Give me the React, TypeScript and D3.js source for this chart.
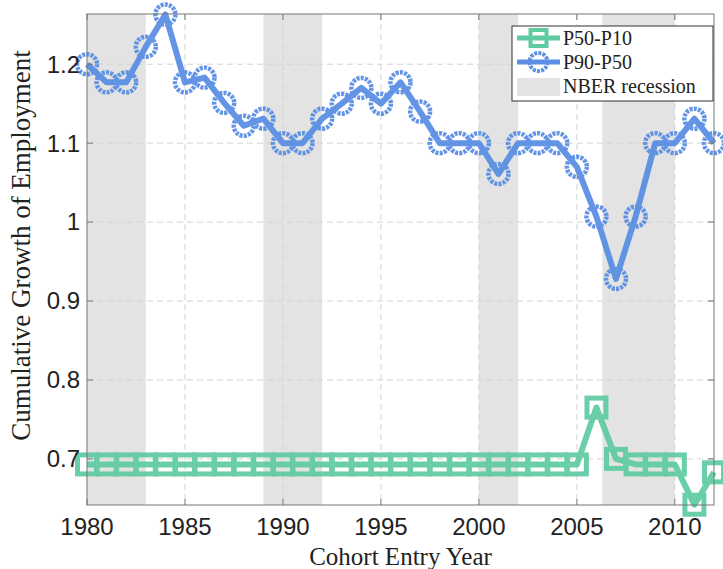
import * as d3 from 'd3'

const years = d3.range(1980, 2013)
const p90p50 = [
  1.2, 1.177, 1.177, 1.222, 1.263, 1.177, 1.183, 1.151, 1.122, 1.131,
  1.1, 1.1, 1.131, 1.15, 1.17, 1.15, 1.177, 1.14, 1.1, 1.1,
  1.1, 1.061, 1.1, 1.1, 1.1, 1.07, 1.007, 0.928, 1.007, 1.1,
  1.1, 1.131, 1.1,
]
const p50p10 = [
  0.693, 0.693, 0.693, 0.693, 0.693, 0.693, 0.693, 0.693, 0.693, 0.693,
  0.693, 0.693, 0.693, 0.693, 0.693, 0.693, 0.693, 0.693, 0.693, 0.693,
  0.693, 0.693, 0.693, 0.693, 0.693, 0.693, 0.765, 0.7, 0.693, 0.693,
  0.693, 0.642, 0.683,
]
const recessions: [number, number][] = [
  [1980, 1983],
  [1989, 1992],
  [2000, 2002],
  [2006.3, 2010],
]
const xTicks = [1980, 1985, 1990, 1995, 2000, 2005, 2010]
const yTicks = [0.7, 0.8, 0.9, 1, 1.1, 1.2]

const W = 723
const H = 569
const m = { left: 87, right: 714, top: 14, bottom: 505 }
const BLUE = '#5b8fe4'
const GREEN = '#5ecba1'
const SANS = 'Liberation Sans, Arial, Helvetica, sans-serif'
const SERIF = 'Liberation Serif, DejaVu Serif, serif'

export default function App() {
  const x = d3.scaleLinear().domain([1980, 2012]).range([m.left, m.right])
  const y = d3.scaleLinear().domain([0.6416, 1.2636]).range([m.bottom, m.top])
  const line = d3
    .line<number>()
    .x((_d, i) => x(years[i]))
    .y((d) => y(d))
  const sq = 19

  return (
    <svg width={W} height={H} style={{ position: 'absolute', left: 0, top: 0 }}>
      <rect x={0} y={0} width={W} height={H} fill="#fff" />
      {/* recession shading */}
      {recessions.map(([a, b], i) => (
        <rect key={i} x={x(a)} y={m.top} width={x(b) - x(a)} height={m.bottom - m.top} fill="#e3e3e3" />
      ))}
      {/* grid */}
      {xTicks.slice(1).map((t) => (
        <line key={t} x1={x(t)} x2={x(t)} y1={m.top} y2={m.bottom} stroke="#d4d4d4" strokeDasharray="6 4" />
      ))}
      {yTicks.map((t) => (
        <line key={t} x1={m.left} x2={m.right} y1={y(t)} y2={y(t)} stroke="#d4d4d4" strokeDasharray="6 4" />
      ))}
      {/* P50-P10 */}
      <g opacity={0.92}>
        <path d={line(p50p10) ?? ''} fill="none" stroke={GREEN} strokeWidth={6} strokeLinejoin="round" />
        {p50p10.map((v, i) => (
          <rect
            key={i}
            x={x(years[i]) - sq / 2}
            y={y(v) - sq / 2}
            width={sq}
            height={sq}
            fill="none"
            stroke={GREEN}
            strokeWidth={5}
          />
        ))}
      </g>
      {/* P90-P50 */}
      <g opacity={0.95}>
        <path d={line(p90p50) ?? ''} fill="none" stroke={BLUE} strokeWidth={6} strokeLinejoin="round" />
        {p90p50.map((v, i) => (
          <circle
            key={i}
            cx={x(years[i])}
            cy={y(v)}
            r={10}
            fill="none"
            stroke={BLUE}
            strokeWidth={4.5}
            strokeDasharray="3 1.2"
          />
        ))}
      </g>
      {/* axes box */}
      <rect x={m.left} y={m.top} width={m.right - m.left} height={m.bottom - m.top} fill="none" stroke="#777" strokeWidth={1} />
      {xTicks.map((t) => (
        <g key={t}>
          <line x1={x(t)} x2={x(t)} y1={m.bottom} y2={m.bottom - 6} stroke="#777" />
          <line x1={x(t)} x2={x(t)} y1={m.top} y2={m.top + 6} stroke="#777" />
          <text x={x(t)} y={535} textAnchor="middle" fontFamily={SANS} fontSize={24} fill="#222">
            {t}
          </text>
        </g>
      ))}
      {yTicks.map((t) => (
        <g key={t}>
          <line x1={m.left} x2={m.left + 6} y1={y(t)} y2={y(t)} stroke="#777" />
          <line x1={m.right} x2={m.right - 6} y1={y(t)} y2={y(t)} stroke="#777" />
          <text x={80} y={y(t)} dy="0.35em" textAnchor="end" fontFamily={SANS} fontSize={24} fill="#222">
            {d3.format('~g')(t)}
          </text>
        </g>
      ))}
      <text x={(m.left + m.right) / 2} y={565} textAnchor="middle" fontFamily={SERIF} fontSize={25} fill="#222">
        Cohort Entry Year
      </text>
      <text
        transform={`translate(30,${(m.top + m.bottom) / 2 - 14}) rotate(-90)`}
        textAnchor="middle"
        fontFamily={SERIF}
        fontSize={27}
        fill="#222"
      >
        Cumulative Growth of Employment
      </text>
      {/* legend */}
      <g>
        <rect x={512} y={26} width={201} height={75} fill="#fff" stroke="#333" strokeWidth={1} />
        <line x1={517} x2={560} y1={38} y2={38} stroke={GREEN} strokeWidth={5} />
        <rect x={538.5 - 8} y={38 - 8} width={16} height={16} fill="none" stroke={GREEN} strokeWidth={4} />
        <text x={563} y={38} dy="0.35em" fontFamily={SERIF} fontSize={20} fill="#222">
          P50-P10
        </text>
        <line x1={517} x2={560} y1={62} y2={62} stroke={BLUE} strokeWidth={5} />
        <circle cx={538.5} cy={62} r={9} fill="none" stroke={BLUE} strokeWidth={4} strokeDasharray="3 1.2" />
        <text x={563} y={62} dy="0.35em" fontFamily={SERIF} fontSize={20} fill="#222">
          P90-P50
        </text>
        <rect x={517} y={78} width={43} height={18} fill="#e3e3e3" />
        <text x={563} y={86} dy="0.35em" fontFamily={SERIF} fontSize={20} fill="#222">
          NBER recession
        </text>
      </g>
    </svg>
  )
}
